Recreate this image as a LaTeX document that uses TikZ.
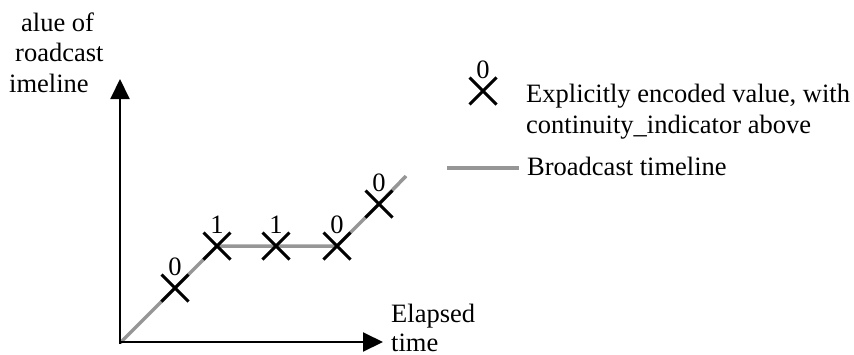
\documentclass[tikz,border=0pt]{standalone}
\usepackage{fontspec}
\setmainfont{Liberation Serif}
\usetikzlibrary{arrows.meta,shapes.misc,backgrounds}
\definecolor{tlgray}{RGB}{150,150,150}
\begin{document}
\begin{tikzpicture}[x=1pt,y=-1pt,
  txt/.style={anchor=base west,inner sep=0pt,font=\fontsize{26.5}{31}\selectfont},
  xmark/.style={cross out,draw=black,line width=3pt,minimum size=24pt,inner sep=0pt,
     label={[inner sep=0pt,label distance=-1pt,font=\fontsize{26.5}{31}\selectfont]above:#1}},
  timeline/.style={draw=tlgray,line width=3.5pt},
  axis/.style={draw=black,line width=2pt,-{Triangle[length=20pt,width=19pt]}}]
\useasboundingbox (0,0) rectangle (854,354);
% axis labels
\node[txt] (yl1) at (21,31) {alue of};
\node[txt] (yl2) at (15,61) {roadcast};
\node[txt] (yl3) at (9,92) {imeline};
\node[txt] (xl1) at (391,322) {Elapsed};
\node[txt] (xl2) at (391,351) {time};
% axes
\coordinate (o) at (120,343);
\coordinate (ytop) at (120,79);
\coordinate (xend) at (383,342);
\draw[axis] (120,344) -- (ytop);
\draw[axis] (119,342) -- (xend);
% crosses
\node[xmark=0] (c1) at (175,288) {};
\node[xmark=1] (c2) at (217,246) {};
\node[xmark=1] (c3) at (276,246) {};
\node[xmark=0] (c4) at (337,246) {};
\node[xmark=0] (c5) at (379,204) {};
\coordinate (tend) at (406,176);
\begin{pgfonlayer}{background}
\draw[timeline] (o) -- (c1.center) -- (c2.center) -- (c3.center) -- (c4.center) -- (c5.center) -- (tend);
\end{pgfonlayer}
% legend
\node[xmark=0] (lx) at (483,91) {};
\node[txt] (l1) at (526,102) {Explicitly encoded value, with};
\node[txt] (l2) at (526,133) {continuity\_indicator above};
\coordinate (lg1) at (447,168);
\coordinate (lg2) at (519,168);
\draw[timeline] (lg1) -- (lg2);
\node[txt] (l3) at (527,175) {Broadcast timeline};
\end{tikzpicture}
\end{document}
